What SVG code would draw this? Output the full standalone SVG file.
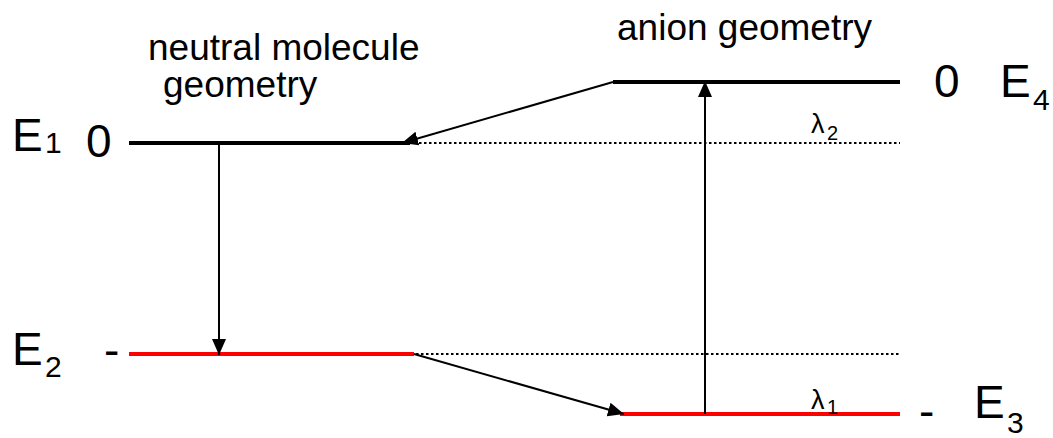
<svg xmlns="http://www.w3.org/2000/svg" width="1053" height="438" viewBox="0 0 1053 438">
<style>
text{font-family:"Liberation Sans",Arial,sans-serif;fill:#000}
.lbl{font-size:37px}
.big{font-size:46px}
.sub{font-size:30px}
.lam{font-size:27px}
.lsub{font-size:20px}
.lvl{stroke-width:4;fill:none}
.dot{stroke:#000;stroke-width:2;stroke-dasharray:2.5 2.5;fill:none}
.arr{stroke:#000;stroke-width:2;fill:none;marker-end:url(#ah)}
</style>
<defs>
<marker id="ah" viewBox="0 0 16 16" refX="16" refY="8" markerWidth="16" markerHeight="16" markerUnits="userSpaceOnUse" orient="auto">
<path d="M0,1 L16,8 L0,15 z" fill="#000"/>
</marker>
</defs>
<g id="title-neutral">
<text class="lbl" x="148" y="60">neutral molecule</text>
<text class="lbl" x="163" y="97">geometry</text>
</g>
<g id="title-anion">
<text class="lbl" x="617" y="40">anion geometry</text>
</g>
<g id="E1">
<line class="lvl" x1="129" y1="143" x2="410" y2="143" stroke="#000"/>
<text class="big" x="12" y="151">E</text><text class="sub" x="45" y="153">1</text>
<text class="big" x="86" y="157">0</text>
</g>
<g id="E2">
<line class="lvl" x1="129" y1="354" x2="414" y2="354" stroke="#f00"/>
<text class="big" x="12" y="365">E</text><text class="sub" x="45" y="377">2</text>
<text class="big" x="104" y="366">-</text>
</g>
<g id="E4">
<line class="lvl" x1="613" y1="82" x2="900" y2="82" stroke="#000"/>
<text class="big" x="934" y="97">0</text>
<text class="big" x="1000" y="97">E</text><text class="sub" x="1033" y="110">4</text>
</g>
<g id="E3">
<line class="lvl" x1="620" y1="414" x2="900" y2="414" stroke="#f00"/>
<text class="big" x="919" y="427">-</text>
<text class="big" x="974" y="418">E</text><text class="sub" x="1007" y="433">3</text>
</g>
<g id="lambda2">
<text class="lam" x="811" y="133">λ</text><text class="lsub" x="827" y="140">2</text>
</g>
<g id="lambda1">
<text class="lam" x="811" y="409">λ</text><text class="lsub" x="827" y="414">1</text>
</g>
<g id="connectors">
<line class="dot" x1="414" y1="143" x2="900" y2="143"/>
<line class="dot" x1="416" y1="354" x2="900" y2="354"/>
<line class="arr" x1="613" y1="82" x2="402" y2="143"/>
<line class="arr" x1="219" y1="143" x2="219" y2="355"/>
<line class="arr" x1="414" y1="354" x2="624" y2="414"/>
<line class="arr" x1="705" y1="414" x2="705" y2="81"/>
</g>
</svg>
